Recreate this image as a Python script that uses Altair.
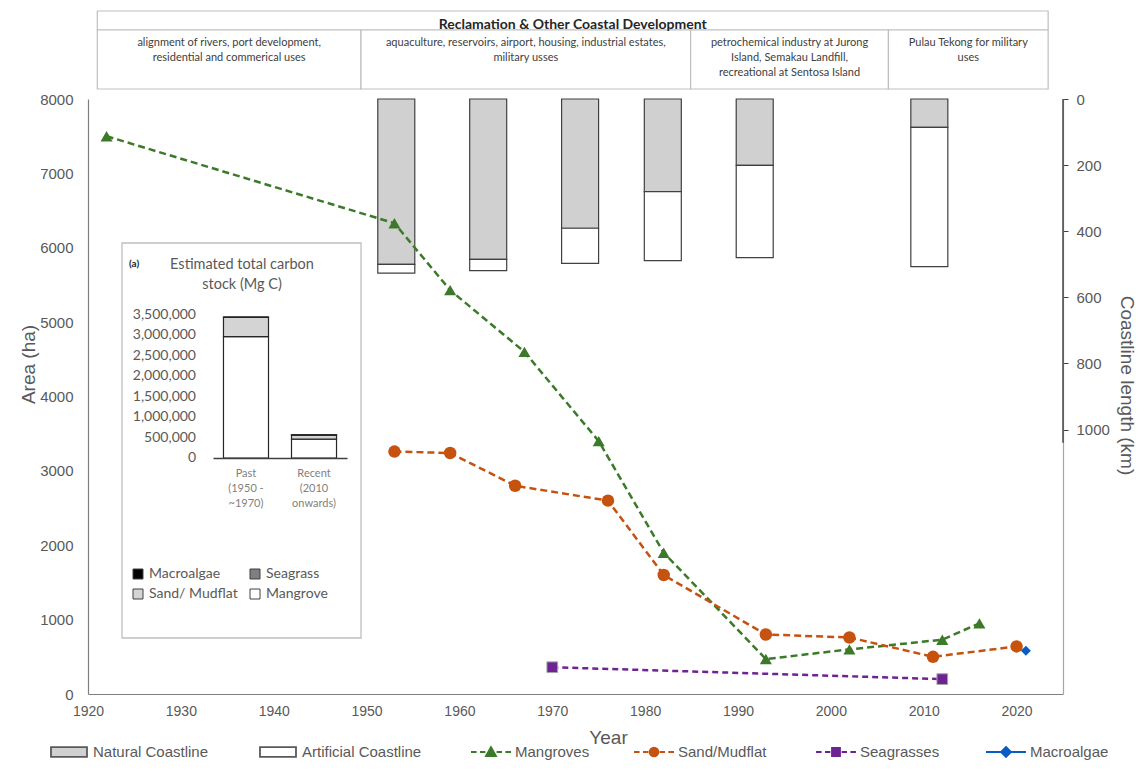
import altair as alt
import pandas as pd

# ---------------- data ----------------
mangrove_years = [1922, 1953, 1959, 1967, 1975, 1982, 1993, 2002, 2012, 2016]
mangrove_area = [7500, 6330, 5430, 4600, 3400, 1900, 470, 600, 730, 950]

sand_years = [1953, 1959, 1966, 1976, 1982, 1993, 2002, 2011, 2020]
sand_area = [3260, 3240, 2800, 2600, 1600, 800, 760, 500, 640]

seagrass_years = [1970, 2012]
seagrass_area = [360, 200]

macroalgae_years = [2021]
macroalgae_area = [580]

coast_years = [1953, 1963, 1973, 1982, 1992, 2011]
natural_km = [500, 485, 391, 280, 201, 86]
artificial_km = [27, 34, 106, 209, 279, 421]

period_bounds = [1921.0, 1949.4, 1984.9, 2006.2, 2023.4]
period_texts = [
    "alignment of rivers, port development,\nresidential and commerical uses",
    "aquaculture, reservoirs, airport, housing, industrial estates,\nmilitary usses",
    "petrochemical industry at Jurong\nIsland, Semakau Landfill,\nrecreational at Sentosa Island",
    "Pulau Tekong for military\nuses",
]
header_title = "Reclamation & Other Coastal Development"

inset_periods = ["Past\n(1950 -\n~1970)", "Recent\n(2010\nonwards)"]
carbon_components = ["Mangrove", "Sand/ Mudflat", "Seagrass", "Macroalgae"]
carbon_mangrove = [2970000, 460000]
carbon_sand = [470000, 100000]
carbon_seagrass = [8000, 4000]
carbon_macroalgae = [0, 500]
carbon_ticks = [0, 500000, 1000000, 1500000, 2000000, 2500000, 3000000, 3500000]
inset_title = "Estimated total carbon\nstock  (Mg C)"

legend_series = ["Natural Coastline", "Artificial Coastline", "Mangroves",
                 "Sand/Mudflat", "Seagrasses", "Macroalgae"]

# ---------------- styles ----------------
GREEN = "#3b7a28"
ORANGE = "#c5520f"
PURPLE = "#6e2393"
BLUE = "#0a5cc4"
TXT = "#595959"

xs = alt.Scale(domain=[1920, 2025], nice=False, zero=False)
ys_left = alt.Scale(domain=[0, 8000], nice=False)
ys_right = alt.Scale(domain=[0, 1800], reverse=True, nice=False)
ys_inset = alt.Scale(domain=[0, 3500000], range=[359, 216], nice=False)

x_axis = alt.Axis(orient="bottom", values=list(range(1920, 2021, 10)), format="d",
                  title="Year", grid=False, ticks=False, tickSize=0, labelPadding=10,
                  labelFontSize=14, labelColor=TXT, labelFlush=False,
                  titleFontSize=19, titleColor=TXT, titleFontWeight="normal",
                  titleX=520, titleY=43, titleBaseline="middle",
                  domainColor="#7f7f7f", domainWidth=1.2)
y_axis_left = alt.Axis(orient="left", values=list(range(0, 8001, 1000)), format="d",
                       title="Area (ha)", grid=False, ticks=False, tickSize=0,
                       labelPadding=15, labelFontSize=15, labelColor=TXT, labelFlush=False,
                       titleFontSize=19, titleColor=TXT, titleFontWeight="normal",
                       titleAngle=-90, titleX=-60, titleY=265, titleBaseline="middle",
                       domainColor="#7f7f7f", domainWidth=1.2)
y_axis_right = alt.Axis(orient="right", values=[0, 200, 400, 600, 800, 1000], format="d",
                        title="Coastline length (km)", grid=False,
                        tickColor="#404040", tickSize=5, labelPadding=8,
                        labelFontSize=15, labelColor=TXT, labelFlush=False,
                        titleFontSize=19, titleColor=TXT, titleFontWeight="normal",
                        titleAngle=90, titleX=63, titleY=286, titleBaseline="middle",
                        domainColor="#a6a6a6", domainWidth=1.2)

# ---------------- main series ----------------
def sdf(years, vals):
    return pd.DataFrame({"year": years, "area": vals})

mang_df = sdf(mangrove_years, mangrove_area)
sand_df = sdf(sand_years, sand_area)
sea_df = sdf(seagrass_years, seagrass_area)
mac_df = sdf(macroalgae_years, macroalgae_area)


def line_layer(df, color, dash, xa=None, ya=None):
    return alt.Chart(df).mark_line(color=color, strokeDash=dash, strokeWidth=2.5).encode(
        x=alt.X("year:Q", scale=xs, axis=xa),
        y=alt.Y("area:Q", scale=ys_left, axis=ya),
    )


def point_layer(df, color, shape, size, **kw):
    return alt.Chart(df).mark_point(shape=shape, filled=True, size=size, color=color,
                                    opacity=1, **kw).encode(
        x=alt.X("year:Q", scale=xs, axis=None),
        y=alt.Y("area:Q", scale=ys_left, axis=None),
    )


# top annotation boxes
boxes_df = pd.DataFrame({"start": period_bounds[:-1], "end": period_bounds[1:],
                         "label": period_texts})
boxes_df["mid"] = (boxes_df["start"] + boxes_df["end"]) / 2
header_df = pd.DataFrame({"start": [period_bounds[0]], "end": [period_bounds[-1]],
                          "label": [header_title]})
header_df["mid"] = (header_df["start"] + header_df["end"]) / 2

header_rect = alt.Chart(header_df).mark_rect(fill="white", stroke="#bfbfbf", strokeWidth=1.2).encode(
    x=alt.X("start:Q", scale=xs, axis=None), x2="end:Q",
    y=alt.value(-88), y2=alt.value(-69))
box_rects = alt.Chart(boxes_df).mark_rect(fill="white", stroke="#bfbfbf", strokeWidth=1.2).encode(
    x=alt.X("start:Q", scale=xs, axis=None), x2="end:Q",
    y=alt.value(-69), y2=alt.value(-10))
box_texts = alt.Chart(boxes_df).mark_text(font="Lato", fontSize=11, color="#404040",
                                          lineBreak="\n", lineHeight=15, baseline="top",
                                          align="center").encode(
    x=alt.X("mid:Q", scale=xs, axis=None), y=alt.value(-62), text="label:N")
header_text = alt.Chart(header_df).mark_text(font="Lato", fontSize=14, fontWeight="bold",
                                             color="#262626", baseline="alphabetic",
                                             align="center").encode(
    x=alt.X("mid:Q", scale=xs, axis=None), y=alt.value(-70), text="label:N")

# legend-only layers (marks clipped away, one legend per entry)
legend_fills = ["#d0d0d0", "#ffffff", GREEN, ORANGE, PURPLE, BLUE]
legend_strokes = ["#595959", "#595959", GREEN, ORANGE, PURPLE, BLUE]
dash = "M-1,0H-0.72M-0.55,0H-0.28M0.28,0H0.55M0.72,0H1"
legend_shapes = [
    "M-0.9,-0.24H0.9V0.24H-0.9Z",
    "M-0.9,-0.24H0.9V0.24H-0.9Z",
    dash + "M-0.25,0.2L0,-0.25L0.25,0.2Z",
    dash + "M-0.22,0A0.22,0.22,0,1,0,0.22,0A0.22,0.22,0,1,0,-0.22,0Z",
    dash + "M-0.2,-0.2H0.2V0.2H-0.2Z",
    "M-1,0H1M0,-0.25L0.25,0L0,0.25L-0.25,0Z",
]
legend_x = [-40, 169, 382, 545, 727, 897]


def legend_layer(name, fill, stroke, path, lx):
    return alt.Chart(pd.DataFrame({"series": [name]})).mark_point(
        filled=True, fill=fill, strokeWidth=1.8, opacity=1, clip=True
    ).encode(
        x=alt.value(-300), y=alt.value(-300),
        stroke=alt.Stroke("series:N", scale=alt.Scale(domain=[name], range=[stroke]),
                          legend=alt.Legend(title=None, orient="none", legendX=lx,
                                            legendY=632, symbolType=path,
                                            symbolSize=1600, symbolFillColor=fill,
                                            symbolStrokeWidth=1.8,
                                            labelFontSize=15, labelColor=TXT,
                                            labelFont="Liberation Sans", labelOffset=3,
                                            padding=0)),
    )


legend_layers = [legend_layer(n, f, s, p, lx) for n, f, s, p, lx in
                 zip(legend_series, legend_fills, legend_strokes, legend_shapes, legend_x)]

# coastline bars (right axis)
coast_df = pd.DataFrame({"year": coast_years, "natural": natural_km, "artificial": artificial_km})
coast_df["zero"] = 0
coast_df["total"] = coast_df["natural"] + coast_df["artificial"]

natural_bars = alt.Chart(coast_df).mark_bar(size=37, fill="#d0d0d0", stroke="#404040",
                                            strokeWidth=1.2).encode(
    x=alt.X("year:Q", scale=xs, axis=None),
    y=alt.Y("zero:Q", scale=ys_right, axis=y_axis_right), y2="natural:Q")
artificial_bars = alt.Chart(coast_df).mark_bar(size=37, fill="#ffffff", stroke="#404040",
                                               strokeWidth=1.2).encode(
    x=alt.X("year:Q", scale=xs, axis=None),
    y=alt.Y("natural:Q", scale=ys_right, axis=None), y2="total:Q")
axis_overlay = alt.Chart(pd.DataFrame({"a": [0], "b": [1040]})).mark_rule(
    color="#404040", strokeWidth=1.4).encode(
    x=alt.value(975), y=alt.Y("a:Q", scale=ys_right, axis=None), y2="b:Q")

# ---------------- inset (a) ----------------
rows = []
for i, p in enumerate(inset_periods):
    for k, (comp, vals) in enumerate(zip(carbon_components,
                                         [carbon_mangrove, carbon_sand, carbon_seagrass,
                                          carbon_macroalgae])):
        rows.append({"period": p, "component": comp, "value": vals[i], "order": k})
inset_df = pd.DataFrame(rows)

inset_box = alt.Chart(pd.DataFrame({"k": [0]})).mark_rect(
    fill="white", stroke="#bfbfbf", strokeWidth=1.3).encode(
    x=alt.value(34), x2=alt.value(273), y=alt.value(144), y2=alt.value(539))
inset_title_mark = alt.Chart(pd.DataFrame({"t": [inset_title]})).mark_text(
    font="Lato", fontSize=14.5, color=TXT, lineBreak="\n", lineHeight=20,
    baseline="top", align="center").encode(
    x=alt.value(154), y=alt.value(159), text="t:N")
inset_tag = alt.Chart(pd.DataFrame({"t": ["(a)"]})).mark_text(
    font="Lato", fontSize=10, fontWeight="bold", color="#262626",
    baseline="middle", align="left").encode(
    x=alt.value(41), y=alt.value(165), text="t:N")

# inset value labels (tick labels of the inset's own y scale)
inset_ticks = alt.Chart(pd.DataFrame({"v": carbon_ticks})).mark_text(
    font="Lato", fontSize=14, color=TXT, align="right", baseline="middle").encode(
    x=alt.value(108), y=alt.Y("v:Q", scale=ys_inset, axis=None),
    text=alt.Text("v:Q", format=",d"))

inset_x_axis = alt.Axis(orient="bottom", offset=-236, title=None, ticks=False, tickSize=0,
                        domainColor="#404040", domainWidth=1.3, grid=False,
                        labelExpr="split(datum.label, '\\n')", labelFontSize=11,
                        labelFont="Lato", labelColor="#7f7f7f", labelPadding=9,
                        labelLineHeight=15, labelAngle=0, zindex=2)
inset_legend = alt.Legend(title=None, orient="none", legendX=43, legendY=468, columns=2,
                          symbolType="square", symbolSize=100, symbolStrokeColor="#404040",
                          symbolStrokeWidth=1, labelFontSize=14, labelFont="Lato",
                          labelColor=TXT, columnPadding=10, rowPadding=6, labelOffset=4,
                          padding=0)
legend_order = ["Macroalgae", "Sand/ Mudflat", "Seagrass", "Mangrove"]
inset_bars = alt.Chart(inset_df).mark_bar(stroke="#262626", strokeWidth=1.2).encode(
    x=alt.X("period:N", sort=inset_periods,
            scale=alt.Scale(range=[125, 259], paddingInner=0.338, paddingOuter=0.154),
            axis=inset_x_axis),
    y=alt.Y("value:Q", stack="zero", scale=ys_inset, axis=None),
    fill=alt.Fill("component:N",
                  scale=alt.Scale(domain=legend_order,
                                  range=["#000000", "#d4d4d4", "#7f7f7f", "#ffffff"]),
                  legend=inset_legend),
    order=alt.Order("order:Q"),
)

layers = [
    natural_bars, artificial_bars, axis_overlay,
    line_layer(mang_df, GREEN, [7, 4], xa=x_axis, ya=y_axis_left),
    line_layer(sand_df, ORANGE, [7, 4]),
    line_layer(sea_df, PURPLE, [6, 4]),
    point_layer(mang_df, GREEN, "triangle-up", 145),
    point_layer(sand_df, ORANGE, "circle", 155),
    point_layer(sea_df, PURPLE, "square", 115, stroke="#a6a6a6", strokeWidth=1),
    point_layer(mac_df, BLUE, "diamond", 100),
    header_rect, box_rects, box_texts, header_text,
    inset_box, inset_title_mark, inset_tag, inset_ticks, inset_bars,
] + legend_layers

chart = alt.layer(*layers).resolve_scale(
    x="independent", y="independent", fill="independent", stroke="independent"
).properties(
    width=975, height=595,
    padding={"left": 80, "top": 91, "right": 73, "bottom": 72},
    autosize=alt.AutoSizeParams(type="none"),
).configure(font="Liberation Sans").configure_view(stroke=None)

chart.save("out.html", embed_options={"renderer": "svg", "actions": False})
